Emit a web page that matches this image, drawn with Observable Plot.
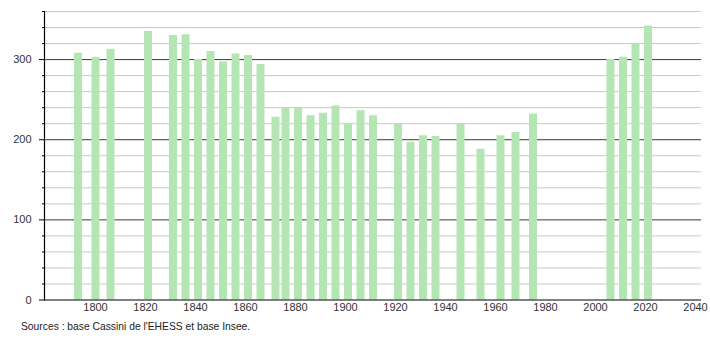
<!DOCTYPE html>
<html>
<head>
<meta charset="utf-8">
<script src="https://cdn.jsdelivr.net/npm/d3@7"></script>
<script src="https://cdn.jsdelivr.net/npm/@observablehq/plot@0.6"></script>
<style>
  html, body { margin: 0; padding: 0; background: #fff; }
  #wrap { position: relative; width: 710px; height: 340px; font-family: "Liberation Sans", Arial, sans-serif; }
  #caption { position: absolute; left: 21px; top: 321px; font-size: 10.3px; color: #222; white-space: nowrap; }
</style>
</head>
<body>
<div id="wrap">
  <div id="chart"></div>
  <div id="caption">Sources : base Cassini de l'EHESS et base Insee.</div>
</div>
<script>
const years = [1793,1800,1806,1821,1831,1836,1841,1846,1851,1856,1861,1866,1872,1876,1881,1886,1891,1896,1901,1906,1911,1921,1926,1931,1936,1946,1954,1962,1968,1975,2006,2011,2016,2021];
const population = [308,303,313,335,330,331,300,310,297,307,305,294,228,240,240,230,233,242,220,236,230,220,197,205,204,220,188,205,209,232,300,303,320,342];
const xTicks = [1800,1820,1840,1860,1880,1900,1920,1940,1960,1980,2000,2020,2040];
const yMajor = [0,100,200,300];
const yMinor = [20,40,60,80,120,140,160,180,220,240,260,280,320,340,360];

const data = years.map((year, i) => ({year, pop: population[i]}));

const chart = Plot.plot({
  width: 710,
  height: 318,
  marginLeft: 44,
  marginRight: 9,
  marginTop: 11,
  marginBottom: 18.5,
  x: {domain: [1779.6, 2042.4], label: null},
  y: {domain: [0, 360], label: null},
  style: {fontFamily: "'Liberation Sans', Arial, sans-serif", fontSize: "11px", color: "#333", background: "#fff"},
  marks: [
    Plot.ruleY(yMinor, {stroke: "#c8c8c8", strokeWidth: 1}),
    Plot.ruleY(yMajor.filter(d => d > 0), {stroke: "#3a3a3a", strokeWidth: 1}),
    Plot.ruleX(data, {x: "year", y1: 0, y2: "pop", stroke: "#b3e6b3", strokeWidth: 8}),
    Plot.ruleY([0], {stroke: "#000", strokeWidth: 1.2}),
    Plot.frame({anchor: "left", stroke: "#000", strokeWidth: 1.2}),
    Plot.axisY(yMajor, {tickSize: 5, tickPadding: 8, label: null, stroke: "#000"}),
    Plot.axisY(yMinor, {tickSize: 2, tickFormat: () => "", label: null, stroke: "#000"}),
    Plot.axisX(xTicks, {tickSize: 0, tickPadding: 3, label: null, tickFormat: d => String(d)})
  ]
});
document.getElementById("chart").appendChild(chart);
</script>
</body>
</html>
